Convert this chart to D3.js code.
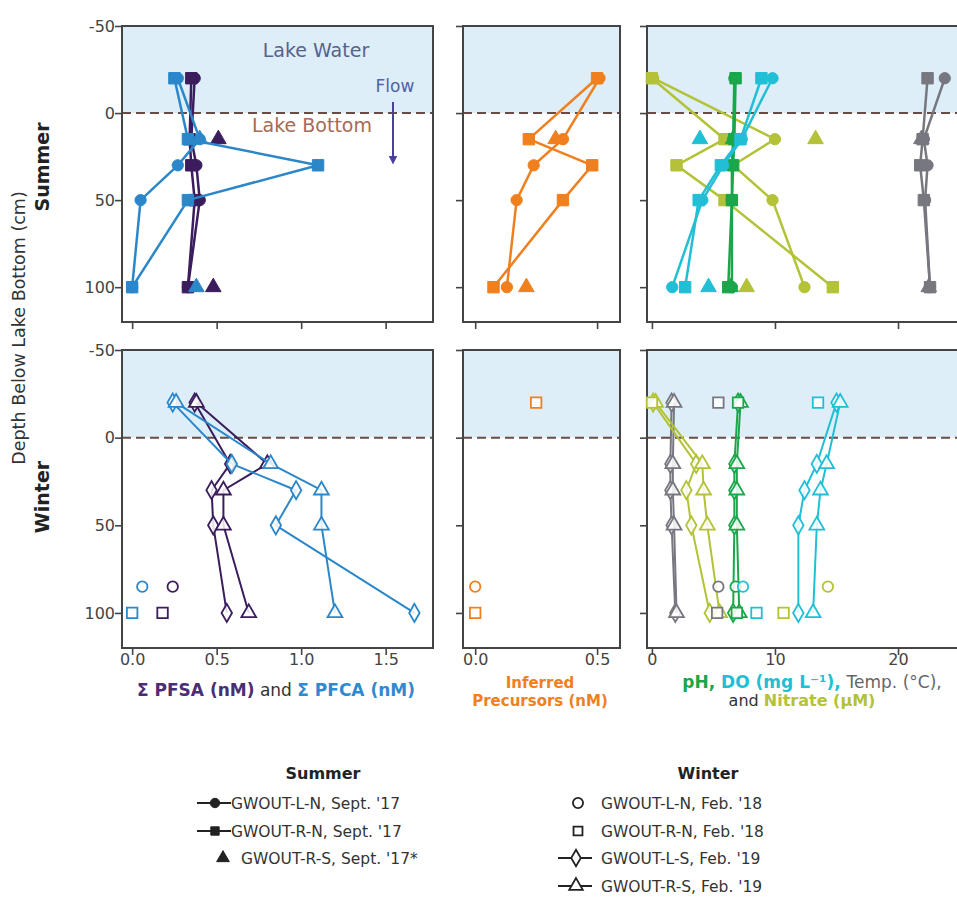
<!DOCTYPE html>
<html>
<head>
<meta charset="utf-8">
<script src="https://cdn.jsdelivr.net/npm/d3@7"></script>
<style>
  body { margin: 0; background: #fff; }
  svg { display: block; }
  text { font-family: "DejaVu Sans", sans-serif; }
</style>
</head>
<body>
<svg id="chart" width="957" height="909"></svg>
<script>
// ---- depth levels (cm below lake bottom; negative = lake water) ----
const depths = [-20, 15, 30, 50, 100];
const depthsRS17 = [15, 100];
const depthsFeb18Square = [-20, 100];
const depthsFeb18Circle = [85];

// ---- Summer (Sept. '17) ----
const pfsaLN17 = [0.37, 0.35, 0.38, 0.40, 0.33];
const pfsaRN17 = [0.35, 0.34, 0.35, 0.37, 0.33];
const pfsaRS17 = [0.51, 0.48];
const pfcaLN17 = [0.27, 0.40, 0.27, 0.05, 0.00];
const pfcaRN17 = [0.25, 0.33, 1.10, 0.33, 0.00];
const pfcaRS17 = [0.40, 0.38];

const precLN17 = [0.51, 0.36, 0.24, 0.17, 0.13];
const precRN17 = [0.50, 0.22, 0.48, 0.36, 0.075];
const precRS17 = [0.33, 0.21];

const phLN17 = [6.7, 6.6, 6.5, 6.5, 6.5];
const phRN17 = [6.8, 6.7, 6.6, 6.5, 6.2];
const phRS17 = [6.6, 6.4];
const doLN17 = [9.8, 7.3, 5.8, 4.1, 1.65];
const doRN17 = [8.9, 7.2, 5.6, 3.8, 2.7];
const doRS17 = [3.9, 4.6];
const tempLN17 = [23.8, 22.1, 22.4, 22.2, 22.6];
const tempRN17 = [22.4, 22.0, 21.8, 22.1, 22.6];
const tempRS17 = [21.9, 22.5];
const nitLN17 = [0.1, 10.0, 6.6, 9.8, 12.4];
const nitRN17 = [0.0, 5.9, 2.0, 5.9, 14.7];
const nitRS17 = [13.3, 7.7];

// ---- Winter (Feb. '18 single samples, Feb. '19 profiles) ----
const pfsaLS19 = [0.37, 0.58, 0.47, 0.48, 0.56];
const pfsaRS19 = [0.38, 0.80, 0.54, 0.54, 0.69];
const pfcaLS19 = [0.24, 0.59, 0.97, 0.85, 1.67];
const pfcaRS19 = [0.26, 0.82, 1.12, 1.12, 1.20];
const pfsaLN18 = [0.24];
const pfcaLN18 = [0.06];
const pfsaRN18 = [null, 0.18];
const pfcaRN18 = [null, 0.00];

const precLN18 = [0.00];
const precRN18 = [0.25, 0.00];

const tempLS19 = [1.6, 1.5, 1.5, 1.6, 1.9];
const tempRS19 = [1.8, 1.7, 1.7, 1.8, 2.0];
const phLS19 = [7.0, 6.7, 6.7, 6.7, 6.6];
const phRS19 = [7.2, 6.9, 6.9, 6.9, 7.1];
const doLS19 = [15.0, 13.4, 12.4, 11.9, 11.9];
const doRS19 = [15.3, 14.2, 13.7, 13.4, 13.1];
const nitLS19 = [0.1, 3.6, 2.8, 3.2, 4.7];
const nitRS19 = [0.3, 4.1, 4.2, 4.5, 5.5];
const tempLN18 = [5.4];
const tempRN18 = [5.4, 5.3];
const phLN18 = [6.8];
const phRN18 = [7.0, 6.9];
const doLN18 = [7.4];
const doRN18 = [13.5, 8.5];
const nitLN18 = [14.3];
const nitRN18 = [0.0, 10.7];

// ---- axis ticks ----
const depthTicks = [-50, 0, 50, 100];
const pfasTicks = [0, 0.5, 1.0, 1.5];
const precTicks = [0, 0.5];
const envTicks = [0, 10, 20];

// ---- colours ----
const C = {
  pfsa: "#3b1d5e", pfca: "#2b87c9", prec: "#f07f1e",
  ph: "#1aa64b", do: "#20bfd5", temp: "#76777f", nit: "#b3c236",
  frame: "#444", water: "#ddeef9"
};

const svg = d3.select("#chart");

// ---- scales ----
const yTop = d3.scaleLinear().domain([-50, 120]).range([26, 322]);
const yBot = d3.scaleLinear().domain([-50, 120]).range([350, 648]);
const xL = d3.scaleLinear().domain([-0.06, 1.78]).range([122, 433]);
const xM = d3.scaleLinear().domain([-0.05, 0.594]).range([463, 620]);
const xR = d3.scaleLinear().domain([-0.4, 25.2]).range([647, 962]);

const panels = [
  { x: xL, ticks: pfasTicks, fmt: d3.format(".1f"), yLabels: true },
  { x: xM, ticks: precTicks, fmt: d3.format(".1f"), yLabels: false },
  { x: xR, ticks: envTicks, fmt: d3.format("d"), yLabels: false }
];
const rows = [{ y: yTop, xLabels: false }, { y: yBot, xLabels: true }];

// ---- panel backgrounds, axes, frames ----
rows.forEach(row => {
  panels.forEach(p => {
    const [x0, x1] = p.x.range();
    const [y0, y1] = row.y.range();
    const g = svg.append("g");
    // lake water band
    g.append("rect")
      .attr("x", x0).attr("y", row.y(-50))
      .attr("width", x1 - x0).attr("height", row.y(0) - row.y(-50))
      .attr("fill", C.water);
    // lake bottom dashed line
    g.append("line")
      .attr("x1", x0).attr("x2", x1)
      .attr("y1", row.y(0)).attr("y2", row.y(0))
      .attr("stroke", "#6a4c44").attr("stroke-width", 2)
      .attr("stroke-dasharray", "9,5");

    const ya = g.append("g").attr("transform", `translate(${x0},0)`)
      .call(d3.axisLeft(row.y).tickValues(depthTicks).tickSize(7)
        .tickFormat(p.yLabels ? (d => String(d)) : () => ""));
    const xa = g.append("g").attr("transform", `translate(0,${y1})`)
      .call(d3.axisBottom(p.x).tickValues(p.ticks).tickSize(7)
        .tickFormat(row.xLabels ? p.fmt : () => ""));
    [ya, xa].forEach(a => {
      a.select(".domain").remove();
      a.selectAll("line").attr("stroke", C.frame).attr("stroke-width", 1.6);
      a.selectAll("text").attr("fill", "#444").style("font-size", "16px")
        .style("font-family", "DejaVu Sans, sans-serif");
    });
    ya.selectAll("text").attr("x", -7);
    xa.selectAll("text").attr("y", 6);

    g.append("rect")
      .attr("x", x0).attr("y", y0)
      .attr("width", x1 - x0).attr("height", y1 - y0)
      .attr("fill", "none").attr("stroke", C.frame).attr("stroke-width", 2);
  });
});

// ---- series drawing ----
const symbolTypes = {
  circle: d3.symbolCircle, square: d3.symbolSquare,
  triangle: d3.symbolTriangle, diamond: d3.symbolDiamond
};
const filledSize = { circle: 100, square: 130, triangle: 105, diamond: 90 };
const openSize = { circle: 85, square: 110, triangle: 95, diamond: 95 };

function drawSeries(xs, ys, d, vals, color, shape, opts) {
  const pts = d.map((dep, i) => [dep, vals[i]]).filter(p => p[1] != null);
  const g = svg.append("g");
  if (opts.line) {
    g.append("path").datum(pts)
      .attr("d", d3.line().x(p => xs(p[1])).y(p => ys(p[0])))
      .attr("fill", "none").attr("stroke", color)
      .attr("stroke-width", opts.lw || 2.5).attr("stroke-linejoin", "round");
  }
  const sym = d3.symbol().type(symbolTypes[shape])
    .size(opts.open ? openSize[shape] : filledSize[shape]);
  g.selectAll("path.m").data(pts).join("path").attr("class", "m")
    .attr("transform", p => `translate(${xs(p[1])},${ys(p[0])})`)
    .attr("d", sym)
    .attr("fill", opts.open ? "#fff" : color)
    .attr("fill-opacity", opts.open ? 0.85 : 1)
    .attr("stroke", color).attr("stroke-width", opts.open ? 1.8 : 1);
}

const solid = { line: true };
const dot = { line: false };
const openLine = { line: true, open: true, lw: 2 };
const openDot = { line: false, open: true };

// Summer, PFAS panel
drawSeries(xL, yTop, depths, pfsaLN17, C.pfsa, "circle", solid);
drawSeries(xL, yTop, depths, pfsaRN17, C.pfsa, "square", solid);
drawSeries(xL, yTop, depthsRS17, pfsaRS17, C.pfsa, "triangle", dot);
drawSeries(xL, yTop, depths, pfcaLN17, C.pfca, "circle", solid);
drawSeries(xL, yTop, depths, pfcaRN17, C.pfca, "square", solid);
drawSeries(xL, yTop, depthsRS17, pfcaRS17, C.pfca, "triangle", dot);

// Summer, precursor panel
drawSeries(xM, yTop, depths, precLN17, C.prec, "circle", solid);
drawSeries(xM, yTop, depths, precRN17, C.prec, "square", solid);
drawSeries(xM, yTop, depthsRS17, precRS17, C.prec, "triangle", dot);

// Summer, water-quality panel
drawSeries(xR, yTop, depths, nitLN17, C.nit, "circle", solid);
drawSeries(xR, yTop, depths, nitRN17, C.nit, "square", solid);
drawSeries(xR, yTop, depths, phLN17, C.ph, "circle", solid);
drawSeries(xR, yTop, depths, phRN17, C.ph, "square", solid);
drawSeries(xR, yTop, depthsRS17, phRS17, C.ph, "triangle", dot);
drawSeries(xR, yTop, depths, doLN17, C.do, "circle", solid);
drawSeries(xR, yTop, depths, doRN17, C.do, "square", solid);
drawSeries(xR, yTop, depthsRS17, doRS17, C.do, "triangle", dot);
drawSeries(xR, yTop, depthsRS17, nitRS17, C.nit, "triangle", dot);
drawSeries(xR, yTop, depths, tempLN17, C.temp, "circle", solid);
drawSeries(xR, yTop, depths, tempRN17, C.temp, "square", solid);
drawSeries(xR, yTop, depthsRS17, tempRS17, C.temp, "triangle", dot);

// Winter, PFAS panel
drawSeries(xL, yBot, depths, pfsaLS19, C.pfsa, "diamond", openLine);
drawSeries(xL, yBot, depths, pfsaRS19, C.pfsa, "triangle", openLine);
drawSeries(xL, yBot, depths, pfcaLS19, C.pfca, "diamond", openLine);
drawSeries(xL, yBot, depths, pfcaRS19, C.pfca, "triangle", openLine);
drawSeries(xL, yBot, depthsFeb18Circle, pfcaLN18, C.pfca, "circle", openDot);
drawSeries(xL, yBot, depthsFeb18Circle, pfsaLN18, C.pfsa, "circle", openDot);
drawSeries(xL, yBot, depthsFeb18Square, pfcaRN18, C.pfca, "square", openDot);
drawSeries(xL, yBot, depthsFeb18Square, pfsaRN18, C.pfsa, "square", openDot);

// Winter, precursor panel
drawSeries(xM, yBot, depthsFeb18Circle, precLN18, C.prec, "circle", openDot);
drawSeries(xM, yBot, depthsFeb18Square, precRN18, C.prec, "square", openDot);

// Winter, water-quality panel
drawSeries(xR, yBot, depths, tempLS19, C.temp, "diamond", openLine);
drawSeries(xR, yBot, depths, tempRS19, C.temp, "triangle", openLine);
drawSeries(xR, yBot, depths, nitLS19, C.nit, "diamond", openLine);
drawSeries(xR, yBot, depths, nitRS19, C.nit, "triangle", openLine);
drawSeries(xR, yBot, depths, phLS19, C.ph, "diamond", openLine);
drawSeries(xR, yBot, depths, phRS19, C.ph, "triangle", openLine);
drawSeries(xR, yBot, depths, doLS19, C.do, "diamond", openLine);
drawSeries(xR, yBot, depths, doRS19, C.do, "triangle", openLine);
drawSeries(xR, yBot, depthsFeb18Circle, tempLN18, C.temp, "circle", openDot);
drawSeries(xR, yBot, depthsFeb18Circle, phLN18, C.ph, "circle", openDot);
drawSeries(xR, yBot, depthsFeb18Circle, doLN18, C.do, "circle", openDot);
drawSeries(xR, yBot, depthsFeb18Circle, nitLN18, C.nit, "circle", openDot);
drawSeries(xR, yBot, depthsFeb18Square, tempRN18, C.temp, "square", openDot);
drawSeries(xR, yBot, depthsFeb18Square, phRN18, C.ph, "square", openDot);
drawSeries(xR, yBot, depthsFeb18Square, doRN18, C.do, "square", openDot);
drawSeries(xR, yBot, depthsFeb18Square, nitRN18, C.nit, "square", openDot);

// ---- annotations in the summer PFAS panel ----
svg.append("text").attr("x", 316).attr("y", 57).attr("text-anchor", "middle")
  .attr("fill", "#56628c").style("font-size", "19px").text("Lake Water");
svg.append("text").attr("x", 395).attr("y", 92).attr("text-anchor", "middle")
  .attr("fill", "#4f62a6").style("font-size", "17px").text("Flow");
svg.append("text").attr("x", 312).attr("y", 132).attr("text-anchor", "middle")
  .attr("fill", "#a56a55").style("font-size", "19px").text("Lake Bottom");
svg.append("defs").append("marker")
  .attr("id", "arrowHead").attr("viewBox", "0 0 10 10")
  .attr("refX", 5).attr("refY", 5).attr("markerWidth", 4.5).attr("markerHeight", 6)
  .attr("orient", "auto")
  .append("path").attr("d", "M0,0 L10,5 L0,10 Z").attr("fill", "#4a3f9e");
svg.append("line").attr("x1", 393).attr("x2", 393).attr("y1", 102).attr("y2", 160)
  .attr("stroke", "#4a3f9e").attr("stroke-width", 2)
  .attr("marker-end", "url(#arrowHead)");

// ---- row and axis titles ----
svg.append("text").attr("transform", "translate(25,328) rotate(-90)")
  .attr("text-anchor", "middle").attr("fill", "#333").style("font-size", "17.5px")
  .text("Depth Below Lake Bottom (cm)");
svg.append("text").attr("transform", "translate(49,167) rotate(-90)")
  .attr("text-anchor", "middle").attr("fill", "#222").style("font-size", "19px")
  .style("font-weight", "bold").text("Summer");
svg.append("text").attr("transform", "translate(49,497) rotate(-90)")
  .attr("text-anchor", "middle").attr("fill", "#222").style("font-size", "19px")
  .style("font-weight", "bold").text("Winter");

const t1 = svg.append("text").attr("x", 276).attr("y", 696).attr("text-anchor", "middle")
  .style("font-size", "17px");
t1.append("tspan").attr("fill", "#4a2d75").style("font-weight", "bold").text("Σ PFSA (nM)");
t1.append("tspan").attr("fill", "#333").text("  and  ");
t1.append("tspan").attr("fill", "#2f8ad0").style("font-weight", "bold").text("Σ PFCA (nM)");

svg.append("text").attr("x", 540).attr("y", 688).attr("text-anchor", "middle")
  .attr("fill", C.prec).style("font-size", "15px").style("font-weight", "bold").text("Inferred");
svg.append("text").attr("x", 540).attr("y", 706).attr("text-anchor", "middle")
  .attr("fill", C.prec).style("font-size", "15px").style("font-weight", "bold").text("Precursors (nM)");

const t3 = svg.append("text").attr("x", 812).attr("y", 688).attr("text-anchor", "middle")
  .style("font-size", "17px");
t3.append("tspan").attr("fill", C.ph).style("font-weight", "bold").text("pH,  ");
t3.append("tspan").attr("fill", C.do).style("font-weight", "bold").text("DO (mg L⁻¹), ");
t3.append("tspan").attr("fill", "#666").text("Temp. (°C),");
const t4 = svg.append("text").attr("x", 802).attr("y", 706).attr("text-anchor", "middle")
  .style("font-size", "16px");
t4.append("tspan").attr("fill", "#333").text("and ");
t4.append("tspan").attr("fill", C.nit).style("font-weight", "bold").text("Nitrate (μM)");

// ---- legend ----
const summerLegend = ["GWOUT-L-N, Sept. '17", "GWOUT-R-N, Sept. '17", "GWOUT-R-S, Sept. '17*"];
const winterLegend = ["GWOUT-L-N, Feb. '18", "GWOUT-R-N, Feb. '18", "GWOUT-L-S, Feb. '19", "GWOUT-R-S, Feb. '19"];
const legendRowY = [803, 831, 858, 886];

svg.append("text").attr("x", 323).attr("y", 779).attr("text-anchor", "middle")
  .attr("fill", "#222").style("font-size", "16px").style("font-weight", "bold").text("Summer");
svg.append("text").attr("x", 708).attr("y", 779).attr("text-anchor", "middle")
  .attr("fill", "#222").style("font-size", "16px").style("font-weight", "bold").text("Winter");

function legendItem(cx, cy, shape, withLine, open, label, textX) {
  if (withLine) {
    svg.append("line").attr("x1", cx - 18).attr("x2", cx + 16).attr("y1", cy).attr("y2", cy)
      .attr("stroke", "#222").attr("stroke-width", 2);
  }
  svg.append("path").attr("transform", `translate(${cx},${cy})`)
    .attr("d", d3.symbol().type(symbolTypes[shape]).size(open ? 80 : 70))
    .attr("fill", open ? "#fff" : "#222").attr("stroke", "#222")
    .attr("stroke-width", open ? 1.8 : 1);
  svg.append("text").attr("x", textX).attr("y", cy + 6)
    .attr("fill", "#333").style("font-size", "15.5px").text(label);
}
legendItem(215, legendRowY[0], "circle", true, false, summerLegend[0], 231);
legendItem(215, legendRowY[1], "square", true, false, summerLegend[1], 231);
legendItem(223, legendRowY[2], "triangle", false, false, summerLegend[2], 241);
legendItem(578, legendRowY[0], "circle", false, true, winterLegend[0], 601);
legendItem(578, legendRowY[1], "square", false, true, winterLegend[1], 601);
legendItem(576, legendRowY[2], "diamond", true, true, winterLegend[2], 601);
legendItem(576, legendRowY[3], "triangle", true, true, winterLegend[3], 601);
</script>
</body>
</html>
